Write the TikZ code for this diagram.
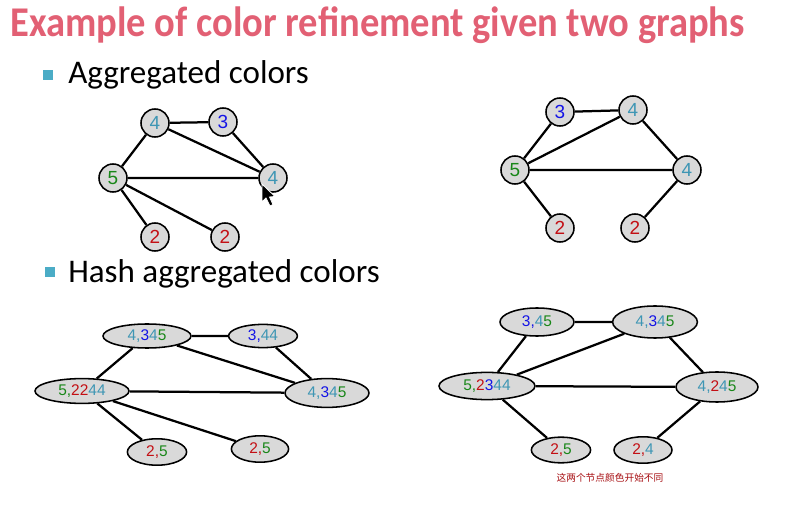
\documentclass[tikz,border=0pt]{standalone}
\usepackage{fontspec}
\setmainfont{Carlito}
\newfontfamily\numfont{Liberation Sans}
\newfontfamily\cjk{Noto Sans CJK SC}
\definecolor{titlered}{RGB}{226,96,116}
\definecolor{bulletblue}{RGB}{75,172,198}
\definecolor{cfour}{RGB}{62,150,180}
\definecolor{cthree}{RGB}{20,20,230}
\definecolor{cfive}{RGB}{25,135,25}
\definecolor{ctwo}{RGB}{195,15,20}
\definecolor{nodegray}{RGB}{217,217,217}
\newcommand{\Fo}{\textcolor{cfour}}
\newcommand{\Th}{\textcolor{cthree}}
\newcommand{\Fi}{\textcolor{cfive}}
\newcommand{\Tw}{\textcolor{ctwo}}
\tikzset{
  vtx/.style={circle,draw=black,line width=1.1pt,fill=nodegray,minimum size=0.7cm,inner sep=0pt,font=\numfont\fontsize{13.5}{15}\selectfont},
  hvtx/.style={ellipse,draw=black,line width=1.1pt,fill=nodegray,inner sep=0pt,font=\numfont\fontsize{11}{13}\selectfont},
  edge/.style={line width=1.6pt},
  bullet/.style={fill=bulletblue,minimum size=0.24cm,inner sep=0pt},
  heading/.style={anchor=base west,inner sep=0pt,font=\fontsize{23.5}{28}\selectfont}
}
\usetikzlibrary{shapes.geometric}
\begin{document}
\begin{tikzpicture}[x=0.025cm,y=-0.025cm]
\useasboundingbox (0,0) rectangle (785,505);
\node[anchor=base west,inner sep=0pt,text=titlered,font=\bfseries\fontsize{27.4}{32}\selectfont] (title) at (10,37) {\scalebox{1}[1.1]{Example of color refinement given two graphs}};
\node[bullet] (b1) at (48,75) {};
\node[heading] (h1) at (68,84) {Aggregated colors};
\node[bullet] (b2) at (50,272) {};
\node[heading] (h2) at (68,283) {Hash aggregated colors};
% aggregated colors, left graph
\node[vtx] (a4) at (155,123) {\Fo{4}};
\node[vtx] (a3) at (223,122) {\Th{3}};
\node[vtx] (a5) at (113,178) {\Fi{5}};
\node[vtx] (a4r) at (273,178) {\Fo{4}};
\node[vtx] (a2l) at (155,237) {\Tw{2}};
\node[vtx] (a2r) at (225,237) {\Tw{2}};
\draw[edge] (a4)--(a3) (a4)--(a5) (a4)--(a4r) (a3)--(a4r) (a5)--(a4r) (a5)--(a2l) (a5)--(a2r);
\filldraw[fill=black,draw=white,line width=0.6pt] (262,184)--(262,202)--(266,198)--(270,206)--(273,204.5)--(269.5,197)--(275,196.5)--cycle;
% aggregated colors, right graph
\node[vtx] (b3) at (560,112) {\Th{3}};
\node[vtx] (b4) at (633,110) {\Fo{4}};
\node[vtx] (b5) at (515,170) {\Fi{5}};
\node[vtx] (b4r) at (687,170) {\Fo{4}};
\node[vtx] (b2l) at (560,228) {\Tw{2}};
\node[vtx] (b2r) at (635,228) {\Tw{2}};
\draw[edge] (b3)--(b4) (b3)--(b5) (b5)--(b4) (b5)--(b4r) (b4)--(b4r) (b5)--(b2l) (b4r)--(b2r);
% hash aggregated colors, left graph
\node[hvtx,minimum width=2.2cm,minimum height=0.6cm] (c4) at (147,336) {\Fo{4,}\Th{3}\Fo{4}\Fi{5}};
\node[hvtx,minimum width=1.72cm,minimum height=0.58cm] (c3) at (263,336) {\Th{3,}\Fo{44}};
\node[hvtx,minimum width=2.35cm,minimum height=0.62cm] (c5) at (82,391) {\Fi{5,}\Tw{22}\Fo{44}};
\node[hvtx,minimum width=2.1cm,minimum height=0.72cm] (c4r) at (327,393) {\Fo{4,}\Th{3}\Fo{4}\Fi{5}};
\node[hvtx,minimum width=1.48cm,minimum height=0.66cm] (c2l) at (157,452) {\Tw{2,}\Fi{5}};
\node[hvtx,minimum width=1.43cm,minimum height=0.66cm] (c2r) at (260,449) {\Tw{2,}\Fi{5}};
\draw[edge] (c4)--(c3) (c4)--(c5) (c4)--(c4r) (c3)--(c4r) (c5)--(c4r) (c5)--(c2l) (c5)--(c2r);
% hash aggregated colors, right graph
\node[hvtx,minimum width=1.85cm,minimum height=0.7cm] (d3) at (537,322) {\Th{3,}\Fo{4}\Fi{5}};
\node[hvtx,minimum width=2.12cm,minimum height=0.8cm] (d4) at (655,322) {\Fo{4,}\Th{3}\Fo{4}\Fi{5}};
\node[hvtx,minimum width=2.4cm,minimum height=0.68cm] (d5) at (487,386) {\Fi{5,}\Tw{2}\Th{3}\Fo{44}};
\node[hvtx,minimum width=2.05cm,minimum height=0.75cm] (d4r) at (717,387) {\Fo{4,}\Tw{2}\Fo{4}\Fi{5}};
\node[hvtx,minimum width=1.48cm,minimum height=0.64cm] (d2l) at (561,450) {\Tw{2,}\Fi{5}};
\node[hvtx,minimum width=1.45cm,minimum height=0.66cm] (d2r) at (643,450) {\Tw{2,}\Fo{4}};
\draw[edge] (d3)--(d4) (d3)--(d5) (d5)--(d4) (d5)--(d4r) (d4)--(d4r) (d5)--(d2l) (d4r)--(d2r);
\node[text=ctwo!85!black,font=\cjk\fontsize{6.9}{8}\selectfont,inner sep=0pt] (note) at (610,478) {这两个节点颜色开始不同};
\end{tikzpicture}
\end{document}
